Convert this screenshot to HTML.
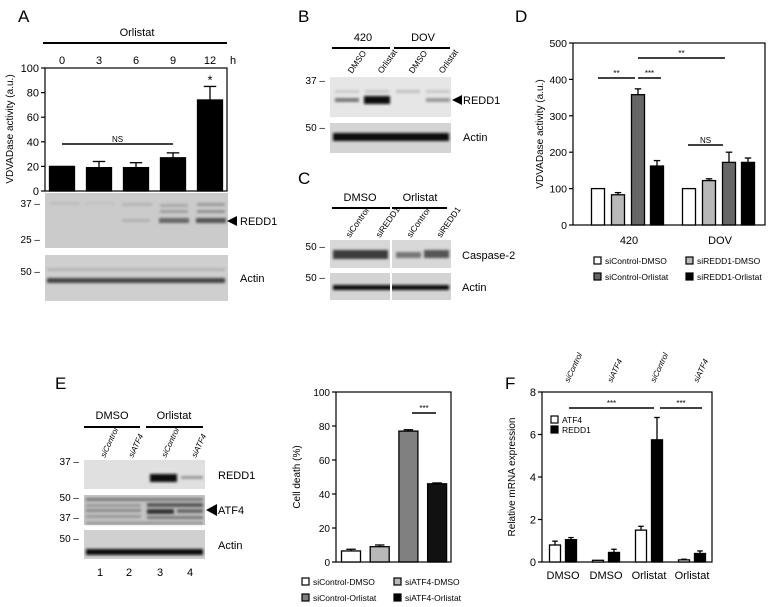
<!DOCTYPE html>
<html><head><meta charset="utf-8"><style>
html,body{margin:0;padding:0;background:#fff;}
svg{display:block;font-family:"Liberation Sans",Arial,sans-serif;}
</style></head><body>
<svg id="fig" width="771" height="607" viewBox="0 0 771 607">
<defs>
<filter id="bl" x="-20%" y="-150%" width="140%" height="400%"><feGaussianBlur stdDeviation="1.4"/></filter>
</defs>
<g id="static" font-size="11" fill="#000">
<text x="18" y="22" font-size="17">A</text>
<text x="298" y="22" font-size="17">B</text>
<text x="298" y="184" font-size="17">C</text>
<text x="515" y="22" font-size="17">D</text>
<text x="55" y="389" font-size="17">E</text>
<text x="505" y="389" font-size="17">F</text>

<text x="137" y="36" text-anchor="middle">Orlistat</text>
<line x1="43" y1="43" x2="227" y2="43" stroke="#000" stroke-width="2"/>
<text x="233" y="64" text-anchor="middle">h</text>
<g>
<rect x="45" y="193" width="183" height="55" fill="#cbcbcb"/>
<rect x="50" y="202" width="30" height="3" fill="#bdbdbd" filter="url(#bl)"/>
<rect x="85" y="202" width="30" height="3" fill="#c2c2c2" filter="url(#bl)"/>
<rect x="122" y="203" width="30" height="3" fill="#b5b5b5" filter="url(#bl)"/>
<rect x="160" y="204" width="28" height="3" fill="#a8a8a8" filter="url(#bl)"/>
<rect x="197" y="203" width="28" height="3" fill="#999" filter="url(#bl)"/>
<rect x="160" y="210" width="28" height="3" fill="#9e9e9e" filter="url(#bl)"/>
<rect x="197" y="210" width="28" height="3" fill="#8f8f8f" filter="url(#bl)"/>
<rect x="122" y="219" width="28" height="3" fill="#b0b0b0" filter="url(#bl)"/>
<rect x="159" y="218" width="30" height="5" fill="#666" filter="url(#bl)"/>
<rect x="196" y="218" width="30" height="5" fill="#555" filter="url(#bl)"/>
</g>
<text x="40" y="207" text-anchor="end" font-size="10">37 –</text>
<text x="40" y="243" text-anchor="end" font-size="10">25 –</text>
<polygon points="227,221 237,216 237,226" fill="#000"/>
<text x="240" y="225">REDD1</text>
<g>
<rect x="45" y="255" width="183" height="46" fill="#cfcfcf"/>
<rect x="47" y="268" width="178" height="3" fill="#b5b5b5" filter="url(#bl)"/>
<rect x="47" y="278" width="178" height="5" fill="#444" filter="url(#bl)"/>
</g>
<text x="40" y="275" text-anchor="end" font-size="10">50 –</text>
<text x="240" y="282">Actin</text>

<text x="363" y="41" text-anchor="middle">420</text>
<text x="423" y="41" text-anchor="middle">DOV</text>
<line x1="332" y1="48" x2="390" y2="48" stroke="#000" stroke-width="2"/>
<line x1="394" y1="48" x2="450" y2="48" stroke="#000" stroke-width="2"/>
<g font-size="8.5">
<text transform="translate(352,74) rotate(-55)">DMSO</text>
<text transform="translate(382,74) rotate(-55)">Orlistat</text>
<text transform="translate(413,74) rotate(-55)">DMSO</text>
<text transform="translate(443,74) rotate(-55)">Orlistat</text>
</g>
<g>
<rect x="330" y="77" width="121" height="40" fill="#e6e6e6"/>
<rect x="335" y="90" width="24" height="3" fill="#ccc" filter="url(#bl)"/>
<rect x="365" y="90" width="24" height="3" fill="#c8c8c8" filter="url(#bl)"/>
<rect x="396" y="90" width="24" height="3" fill="#c0c0c0" filter="url(#bl)"/>
<rect x="426" y="90" width="24" height="3" fill="#c8c8c8" filter="url(#bl)"/>
<rect x="335" y="98" width="24" height="4" fill="#777" filter="url(#bl)"/>
<rect x="364" y="96" width="26" height="8" fill="#111" filter="url(#bl)"/>
<rect x="426" y="98" width="24" height="4" fill="#9a9a9a" filter="url(#bl)"/>
</g>
<text x="325" y="84" text-anchor="end" font-size="10">37 –</text>
<polygon points="452,100 462,95 462,105" fill="#000"/>
<text x="463" y="104">REDD1</text>
<g>
<rect x="330" y="123" width="121" height="30" fill="#d4d4d4"/>
<rect x="333" y="133" width="116" height="8" fill="#111" filter="url(#bl)"/>
</g>
<text x="325" y="131" text-anchor="end" font-size="10">50 –</text>
<text x="463" y="141">Actin</text>

<text x="360" y="201" text-anchor="middle">DMSO</text>
<text x="420" y="201" text-anchor="middle">Orlistat</text>
<line x1="332" y1="208" x2="390" y2="208" stroke="#000" stroke-width="2"/>
<line x1="392" y1="208" x2="447" y2="208" stroke="#000" stroke-width="2"/>
<g font-size="8.5">
<text transform="translate(350,238) rotate(-55)">siControl</text>
<text transform="translate(380,238) rotate(-55)">siREDD1</text>
<text transform="translate(411,238) rotate(-55)">siControl</text>
<text transform="translate(441,238) rotate(-55)">siREDD1</text>
</g>
<g>
<rect x="330" y="240" width="121" height="28" fill="#d8d8d8"/>
<rect x="333" y="250" width="55" height="9" fill="#3a3a3a" filter="url(#bl)"/>
<rect x="396" y="252" width="25" height="6" fill="#777" filter="url(#bl)"/>
<rect x="424" y="250" width="25" height="8" fill="#555" filter="url(#bl)"/>
<rect x="390" y="240" width="2" height="60" fill="#fff"/>
</g>
<text x="325" y="250" text-anchor="end" font-size="10">50 –</text>
<text x="462" y="259">Caspase-2</text>
<g>
<rect x="330" y="273" width="121" height="27" fill="#d4d4d4"/>
<rect x="333" y="285" width="116" height="5" fill="#111" filter="url(#bl)"/>
<rect x="390" y="273" width="2" height="27" fill="#fff"/>
</g>
<text x="325" y="281" text-anchor="end" font-size="10">50 –</text>
<text x="462" y="291">Actin</text>

<text x="112" y="419" text-anchor="middle">DMSO</text>
<text x="174" y="419" text-anchor="middle">Orlistat</text>
<line x1="84" y1="427" x2="140" y2="427" stroke="#000" stroke-width="2"/>
<line x1="146" y1="427" x2="203" y2="427" stroke="#000" stroke-width="2"/>
<g font-size="8" font-style="italic">
<text transform="translate(105,458) rotate(-65)">siControl</text>
<text transform="translate(133,458) rotate(-65)">siATF4</text>
<text transform="translate(166,458) rotate(-65)">siControl</text>
<text transform="translate(196,458) rotate(-65)">siATF4</text>
</g>
<g>
<rect x="84" y="460" width="121" height="29" fill="#e0e0e0"/>
<rect x="150" y="474" width="27" height="8" fill="#111" filter="url(#bl)"/>
<rect x="181" y="476" width="22" height="3" fill="#999" filter="url(#bl)"/>
</g>
<text x="79" y="465" text-anchor="end" font-size="10">37 –</text>
<text x="218" y="479">REDD1</text>
<g>
<rect x="84" y="495" width="121" height="30" fill="#c4c4c4"/>
<rect x="86" y="498" width="117" height="3" fill="#777" filter="url(#bl)"/>
<rect x="86" y="504" width="55" height="3" fill="#999" filter="url(#bl)"/>
<rect x="86" y="509" width="55" height="3" fill="#888" filter="url(#bl)"/>
<rect x="86" y="515" width="55" height="3" fill="#999" filter="url(#bl)"/>
<rect x="147" y="503" width="56" height="4" fill="#555" filter="url(#bl)"/>
<rect x="147" y="509" width="27" height="5" fill="#333" filter="url(#bl)"/>
<rect x="177" y="509" width="26" height="4" fill="#666" filter="url(#bl)"/>
<rect x="147" y="516" width="56" height="3" fill="#777" filter="url(#bl)"/>
<rect x="86" y="522" width="117" height="2" fill="#888" filter="url(#bl)"/>
</g>
<text x="79" y="501" text-anchor="end" font-size="10">50 –</text>
<text x="79" y="521" text-anchor="end" font-size="10">37 –</text>
<polygon points="206,510 217,504 217,516" fill="#000"/>
<text x="218" y="514">ATF4</text>
<g>
<rect x="84" y="530" width="121" height="29" fill="#d0d0d0"/>
<rect x="86" y="549" width="117" height="6" fill="#111" filter="url(#bl)"/>
</g>
<text x="79" y="542" text-anchor="end" font-size="10">50 –</text>
<text x="218" y="549">Actin</text>
<g font-size="11" text-anchor="middle">
<text x="100" y="576">1</text><text x="129" y="576">2</text><text x="160" y="576">3</text><text x="190" y="576">4</text>
</g>
</g>
<g id="charts"></g>
</svg>
<script>
const aTimes = ['0','3','6','9','12'];
const aValues = [20, 19, 19, 27, 74];
const aErrors = [0, 5, 4, 4, 11];
const aTicks = [0, 20, 40, 60, 80, 100];

const dGroups = ['420', 'DOV'];
const dCtrlDMSO = [100, 100];
const dREDD1DMSO = [83, 122];
const dCtrlOrl = [358, 172];
const dREDD1Orl = [162, 172];
const dCtrlDMSOErr = [0, 0];
const dREDD1DMSOErr = [6, 5];
const dCtrlOrlErr = [16, 28];
const dREDD1OrlErr = [15, 12];
const dTicks = [0, 100, 200, 300, 400, 500];

const eValues = [6.5, 9, 77, 46];
const eErrors = [1, 1, 0.8, 0.5];
const eTicks = [0, 20, 40, 60, 80, 100];

const fCategories = ['DMSO', 'DMSO', 'Orlistat', 'Orlistat'];
const fTopLabels = ['siControl', 'siATF4', 'siControl', 'siATF4'];
const fATF4 = [0.8, 0.08, 1.5, 0.1];
const fREDD1 = [1.05, 0.45, 5.75, 0.4];
const fATF4Err = [0.18, 0.02, 0.18, 0.03];
const fREDD1Err = [0.1, 0.15, 1.05, 0.12];
const fTicks = [0, 2, 4, 6, 8];

const NS = 'http://www.w3.org/2000/svg';
const root = document.getElementById('charts');
function mk(tag, attrs, parent) {
  const e = document.createElementNS(NS, tag);
  for (const k in attrs) e.setAttribute(k, attrs[k]);
  (parent || root).appendChild(e);
  return e;
}
function txt(x, y, s, attrs, parent) {
  const t = mk('text', Object.assign({x: x, y: y}, attrs || {}), parent);
  t.textContent = s;
  return t;
}
function bar(g, cx, w, y0, y1, fill, yErr) {
  const r = mk('rect', {x: cx - w/2, y: y1, width: w, height: Math.max(0, y0 - y1), fill: fill, stroke: '#000', 'stroke-width': 1.3}, g);
  
  
  if (yErr < y1 - 0.5) {
    mk('line', {x1: cx, y1: y1, x2: cx, y2: yErr, stroke: '#000', 'stroke-width': 1.3}, g);
    mk('line', {x1: cx - w/4, y1: yErr, x2: cx + w/4, y2: yErr, stroke: '#000', 'stroke-width': 1.3}, g);
  }
  return r;
}
function frame(g, x0, x1, yTop, yBot, ticks, yf, fs) {
  mk('rect', {x: x0, y: yTop, width: x1 - x0, height: yBot - yTop, fill: 'none', stroke: '#000', 'stroke-width': 1.2}, g);
  ticks.forEach(t => {
    const y = yf(t);
    mk('line', {x1: x0 - 4, y1: y, x2: x0, y2: y, stroke: '#000', 'stroke-width': 1.2}, g);
    const l = txt(x0 - 6, y + 4, String(t), {'text-anchor': 'end', 'font-size': fs}, g);
    
    
  });
}
function sig(g, x1, x2, y, label) {
  mk('line', {x1: x1, y1: y, x2: x2, y2: y, stroke: '#000', 'stroke-width': 1.6}, g);
  txt((x1 + x2) / 2, y - 2, label, {'text-anchor': 'middle', 'font-size': 8}, g);
}
function legendItem(g, x, y, fill, label) {
  mk('rect', {x: x, y: y - 7, width: 7, height: 7, fill: fill, stroke: '#000', 'stroke-width': 1.2}, g);
  const t = txt(x + 11, y, label, {'font-size': 8.5}, g);
  
  
}

const gA = mk('g', {});


const yA = v => 191 - v * 1.23;
const xA = i => 62 + i * 37;
frame(gA, 45, 227, yA(100), yA(0), aTicks, yA, 11);
aValues.forEach((v, i) => {
  bar(gA, xA(i), 25, yA(0), yA(v), '#000', yA(v + aErrors[i]));
  txt(xA(i), 64, aTimes[i], {'text-anchor': 'middle', 'font-size': 11}, gA);
});
sig(gA, xA(0), xA(3), 144, 'NS');
txt(xA(4), yA(aValues[4] + aErrors[4]) - 2, '*', {'text-anchor': 'middle', 'font-size': 13}, gA);
txt(0, 0, 'VDVADase activity (a.u.)', {transform: 'translate(13,129) rotate(-90)', 'text-anchor': 'middle', 'font-size': 10}, gA);

const gD = mk('g', {});


const yD = v => 225 - v * 0.364;
const xDg = i => 628 + i * 91;
const dOff = [-30, -10, 10, 29];
const dFill = ['#fff', '#b8b8b8', '#666', '#000'];
const dSeries = [dCtrlDMSO, dREDD1DMSO, dCtrlOrl, dREDD1Orl];
const dErrs = [dCtrlDMSOErr, dREDD1DMSOErr, dCtrlOrlErr, dREDD1OrlErr];
frame(gD, 573, 765, yD(500), yD(0), dTicks, yD, 10.5);
dGroups.forEach((gname, i) => {
  dSeries.forEach((s, k) => bar(gD, xDg(i) + dOff[k], 13, yD(0), yD(s[i]), dFill[k], yD(s[i] + dErrs[k][i])));
  txt(xDg(i) + 1, 244, gname, {'text-anchor': 'middle', 'font-size': 11}, gD);
});
sig(gD, 598, 635, 78, '**');
sig(gD, 638, 661, 78, '***');
sig(gD, 638, 725, 58, '**');
sig(gD, 688, 723, 145, 'NS');
txt(0, 0, 'VDVADase activity (a.u.)', {transform: 'translate(543,134) rotate(-90)', 'text-anchor': 'middle', 'font-size': 10}, gD);
legendItem(gD, 594, 264, '#fff', 'siControl-DMSO');
legendItem(gD, 686, 264, '#b8b8b8', 'siREDD1-DMSO');
legendItem(gD, 594, 280, '#666', 'siControl-Orlistat');
legendItem(gD, 686, 280, '#000', 'siREDD1-Orlistat');

const gE = mk('g', {});


const yE = v => 562 - v * 1.7;
const xE = i => 351 + i * 28.7;
const eFill = ['#fff', '#b8b8b8', '#808080', '#111'];
frame(gE, 336, 451, yE(100), yE(0), eTicks, yE, 10);
eValues.forEach((v, i) => bar(gE, xE(i), 19, yE(0), yE(v), eFill[i], yE(v + eErrors[i])));
sig(gE, 412, 436, 413, '***');
txt(0, 0, 'Cell death (%)', {transform: 'translate(300,477) rotate(-90)', 'text-anchor': 'middle', 'font-size': 10}, gE);
legendItem(gE, 302, 585, '#fff', 'siControl-DMSO');
legendItem(gE, 394, 585, '#b8b8b8', 'siATF4-DMSO');
legendItem(gE, 302, 601, '#808080', 'siControl-Orlistat');
legendItem(gE, 394, 601, '#000', 'siATF4-Orlistat');

const gF = mk('g', {});


const yF = v => 562 - v * 21.25;
const xF = i => 563 + i * 43;
frame(gF, 542, 712, yF(8), yF(0), fTicks, yF, 11);
fCategories.forEach((c, i) => {
  bar(gF, xF(i) - 8, 11, yF(0), yF(fATF4[i]), '#fff', yF(fATF4[i] + fATF4Err[i]));
  bar(gF, xF(i) + 8, 11, yF(0), yF(fREDD1[i]), '#000', yF(fREDD1[i] + fREDD1Err[i]));
  txt(xF(i), 579, c, {'text-anchor': 'middle', 'font-size': 11}, gF);
  txt(0, 0, fTopLabels[i], {transform: 'translate(' + (xF(i) + 6) + ',383) rotate(-65)', 'font-size': 8, 'font-style': 'italic'}, gF);
});
sig(gF, 569, 654, 408, '***');
sig(gF, 660, 702, 408, '***');
txt(0, 0, 'Relative mRNA expression', {transform: 'translate(515,477) rotate(-90)', 'text-anchor': 'middle', 'font-size': 10}, gF);
legendItem(gF, 551, 423, '#fff', 'ATF4');
legendItem(gF, 551, 433, '#000', 'REDD1');
</script>
</body></html>
